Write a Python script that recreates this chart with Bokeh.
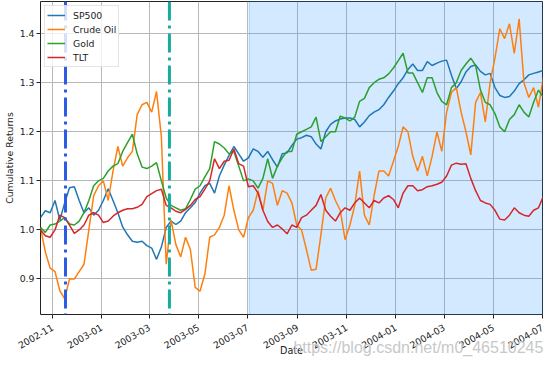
import math
import pandas as pd
from bokeh.plotting import figure
from bokeh.models import (Span, BoxAnnotation, LinearAxis, FixedTicker,
                          Range1d, PrintfTickFormatter, DatetimeTickFormatter,
                          CustomJSTickFormatter)
from bokeh.embed import file_html
from bokeh.resources import INLINE

# ---- data ----
start_date = "2002-10-17"
n_points = 105
step = "6D"

sp500 = [1.025, 1.039, 1.035, 1.06, 1.02, 1.055, 1.086, 1.088, 1.06, 1.035,
         1.045, 1.03, 1.04, 1.06, 1.084, 1.06, 1.035, 1.006, 0.99, 0.977,
         0.975, 0.977, 0.968, 0.963, 0.94, 0.965, 1.005, 1.018, 1.011, 1.018,
         1.035, 1.045, 1.056, 1.075, 1.09, 1.095, 1.075, 1.11, 1.132, 1.152,
         1.17, 1.155, 1.14, 1.147, 1.165, 1.16, 1.148, 1.16, 1.143, 1.128,
         1.155, 1.157, 1.172, 1.185, 1.188, 1.193, 1.19, 1.175, 1.165, 1.2,
         1.215, 1.222, 1.226, 1.228, 1.228, 1.225, 1.21, 1.22, 1.233, 1.24,
         1.245, 1.255, 1.27, 1.283, 1.298, 1.31, 1.327, 1.338, 1.325, 1.325,
         1.343, 1.335, 1.34, 1.344, 1.346, 1.315, 1.288, 1.302, 1.322, 1.333,
         1.336, 1.323, 1.316, 1.319, 1.29, 1.274, 1.27, 1.272, 1.283, 1.298,
         1.306, 1.316, 1.319, 1.322, 1.325]

crude_oil = [1.005, 0.955, 0.922, 0.915, 0.876, 0.86, 0.9, 0.9, 0.915, 0.93,
             1.0, 1.07, 1.09, 1.1, 1.06, 1.12, 1.17, 1.13, 1.147, 1.16,
             1.235, 1.255, 1.26, 1.24, 1.282, 1.19, 0.93, 1.02, 0.97, 0.945,
             0.985, 0.96, 0.883, 0.875, 0.91, 0.985, 0.99, 1.005, 1.03, 1.09,
             1.04, 1.0, 0.985, 1.025, 1.04, 1.08, 1.04, 1.1, 1.095, 1.05,
             1.08, 1.075, 1.055, 1.01, 1.0, 0.96, 0.918, 0.92, 0.99, 1.065,
             1.085, 1.06, 1.04, 0.98, 1.01, 1.05, 1.12, 1.03, 1.01, 1.07,
             1.12, 1.12, 1.11, 1.14, 1.17, 1.21, 1.2, 1.15, 1.12, 1.15,
             1.11, 1.15, 1.2, 1.16, 1.24, 1.28, 1.29, 1.24, 1.2, 1.153,
             1.26, 1.28, 1.22, 1.3, 1.35, 1.41, 1.39, 1.42, 1.36, 1.43,
             1.3, 1.27, 1.29, 1.25, 1.31]

gold = [1.005, 0.995, 1.01, 1.012, 1.018, 1.025, 1.012, 1.01, 1.018, 1.035,
        1.06, 1.09, 1.1, 1.105, 1.12, 1.13, 1.135, 1.16, 1.178, 1.195,
        1.155, 1.128, 1.125, 1.13, 1.137, 1.1, 1.065, 1.05, 1.045, 1.04,
        1.043, 1.062, 1.083, 1.09, 1.108, 1.125, 1.18, 1.175, 1.167, 1.155,
        1.16, 1.13, 1.1, 1.104, 1.1, 1.085, 1.105, 1.145, 1.105, 1.13,
        1.147, 1.16, 1.16, 1.195, 1.2, 1.205, 1.21, 1.23, 1.18, 1.19,
        1.2, 1.2, 1.232, 1.228, 1.222, 1.23, 1.262, 1.268, 1.29, 1.3,
        1.307, 1.31, 1.318, 1.33, 1.345, 1.36, 1.32, 1.32, 1.3, 1.28,
        1.31, 1.31, 1.28, 1.262, 1.255, 1.29, 1.3, 1.325, 1.338, 1.35,
        1.335, 1.285, 1.26, 1.255, 1.237, 1.21, 1.2, 1.225, 1.235, 1.255,
        1.24, 1.23, 1.26, 1.285, 1.27]

tlt = [1.0, 0.988, 0.985, 1.0, 1.03, 1.025, 1.01, 0.993, 1.0, 1.01,
       1.03, 1.035, 1.03, 1.015, 1.018, 1.028, 1.035, 1.04, 1.043, 1.043,
       1.046, 1.052, 1.068, 1.074, 1.08, 1.083, 1.05, 1.045, 1.038, 1.035,
       1.042, 1.05, 1.062, 1.068, 1.083, 1.1, 1.145, 1.125, 1.14, 1.142,
       1.165, 1.135, 1.13, 1.088, 1.09, 1.075, 1.04, 1.017, 1.005, 1.01,
       1.002, 0.992, 1.01, 1.005, 1.025, 1.03, 1.04, 1.05, 1.072, 1.04,
       1.028, 1.018, 1.035, 1.045, 1.04, 1.055, 1.065, 1.055, 1.045, 1.06,
       1.055, 1.065, 1.07, 1.062, 1.045, 1.075, 1.09, 1.09, 1.08, 1.082,
       1.088, 1.09, 1.093, 1.097, 1.11, 1.132, 1.136, 1.134, 1.135, 1.105,
       1.08, 1.06, 1.055, 1.052, 1.04, 1.022, 1.02, 1.03, 1.045, 1.035,
       1.03, 1.028, 1.04, 1.045, 1.068]

series_names = ["SP500", "Crude Oil", "Gold", "TLT"]
series_colors = ["#1f77b4", "#ff7f0e", "#2ca02c", "#d62728"]

event_dates = ["2002-11-17", "2003-03-26"]
event_colors = ["#2d5be3", "#16ab9f"]
shade_start = "2003-07-03"

x_start, x_end = "2002-10-17", "2004-07-01"
y_start, y_end = 0.8276, 1.4655
y_ticks = [0.9, 1.0, 1.1, 1.2, 1.3, 1.4]
x_tick_dates = ["2002-11-01", "2003-01-01", "2003-03-01", "2003-05-01",
                "2003-07-01", "2003-09-01", "2003-11-01", "2004-01-01",
                "2004-03-01", "2004-05-01", "2004-07-01"]
x_title = "Date"
y_title = "Cumulative Returns"
watermark = "https://blog.csdn.net/m0_46510245"
watermark_center = "2004-01-29"


def ms(d):
    return pd.Timestamp(d).value / 1e6


dates = pd.date_range(start_date, periods=n_points, freq=step)

FONT = "DejaVu Sans"
FS = "9.3px"

p = figure(width=544, height=358, x_axis_type="datetime",
           output_backend="svg", toolbar_location=None,
           x_range=Range1d(ms(x_start), ms(x_end)),
           y_range=Range1d(y_start, y_end),
           min_border_left=33, min_border_right=2,
           min_border_top=1, min_border_bottom=0)

p.background_fill_color = "white"
p.border_fill_color = "white"
p.outline_line_color = "#222222"
p.outline_line_width = 1

shade = BoxAnnotation(left=ms(shade_start), fill_color="#1e90ff",
                      fill_alpha=0.2, line_color="#1e90ff", line_alpha=0.35,
                      line_width=1, level="underlay")
p.add_layout(shade)

for name, vals, col in zip(series_names, [sp500, crude_oil, gold, tlt],
                           series_colors):
    p.line(dates, vals, line_color=col, line_width=1.5, legend_label=name)

for d, c in zip(event_dates, event_colors):
    p.add_layout(Span(location=ms(d), dimension="height", line_color=c,
                      line_width=3, line_dash="19 5 3 5"))

# axes
p.xaxis.ticker = FixedTicker(ticks=[ms(d) for d in x_tick_dates])
p.xaxis.formatter = DatetimeTickFormatter(days="%Y-%m", months="%Y-%m",
                                          years="%Y-%m")
p.xaxis.major_label_orientation = math.pi / 6
p.yaxis.ticker = FixedTicker(ticks=y_ticks)
p.yaxis.formatter = PrintfTickFormatter(format="%.1f")
p.xaxis.axis_label = x_title
p.yaxis.axis_label = y_title

for ax in [p.xaxis[0], p.yaxis[0]]:
    ax.axis_line_color = None
    ax.major_tick_line_color = "#222222"
    ax.major_tick_out = 4
    ax.major_tick_in = 0
    ax.minor_tick_line_color = None
    ax.major_label_text_font = FONT
    ax.major_label_text_font_size = FS
    ax.major_label_text_color = "#222222"
    ax.axis_label_text_font = FONT
    ax.axis_label_text_font_size = "9.6px"
    ax.axis_label_text_font_style = "normal"
    ax.axis_label_text_color = "#222222"

p.yaxis.axis_label_text_font_size = FS
p.yaxis.major_label_standoff = 2
p.yaxis.axis_label_standoff = 2
p.xaxis.major_label_standoff = 8
p.xaxis.axis_label_standoff = -10

# watermark: a label-only axis below the date axis, pulled up into its band
wm_axis = LinearAxis(ticker=FixedTicker(ticks=[ms(watermark_center)]),
                     formatter=CustomJSTickFormatter(args=dict(t=watermark),
                                                     code="return t"))
wm_axis.axis_line_color = None
wm_axis.major_tick_line_color = None
wm_axis.minor_tick_line_color = None
wm_axis.major_tick_out = 0
wm_axis.major_tick_in = 0
wm_axis.major_label_standoff = -20
wm_axis.major_label_text_font = "Liberation Sans"
wm_axis.major_label_text_font_size = "16px"
wm_axis.major_label_text_color = "#c8c8c8"
p.add_layout(wm_axis, "below")

p.xgrid.grid_line_color = "#b8b8b8"
p.ygrid.grid_line_color = "#b8b8b8"
p.xgrid.grid_line_width = 1
p.ygrid.grid_line_width = 1

lg = p.legend[0]
lg.location = "top_left"
lg.margin = 4
lg.padding = 2
lg.spacing = 0
lg.glyph_height = 14
lg.label_height = 14
lg.glyph_width = 18
lg.label_standoff = 8
lg.label_text_font = FONT
lg.label_text_font_size = FS
lg.label_text_color = "#222222"
lg.border_line_color = "#cccccc"
lg.background_fill_alpha = 0.8

open("out.html", "w").write(file_html(p, INLINE))
